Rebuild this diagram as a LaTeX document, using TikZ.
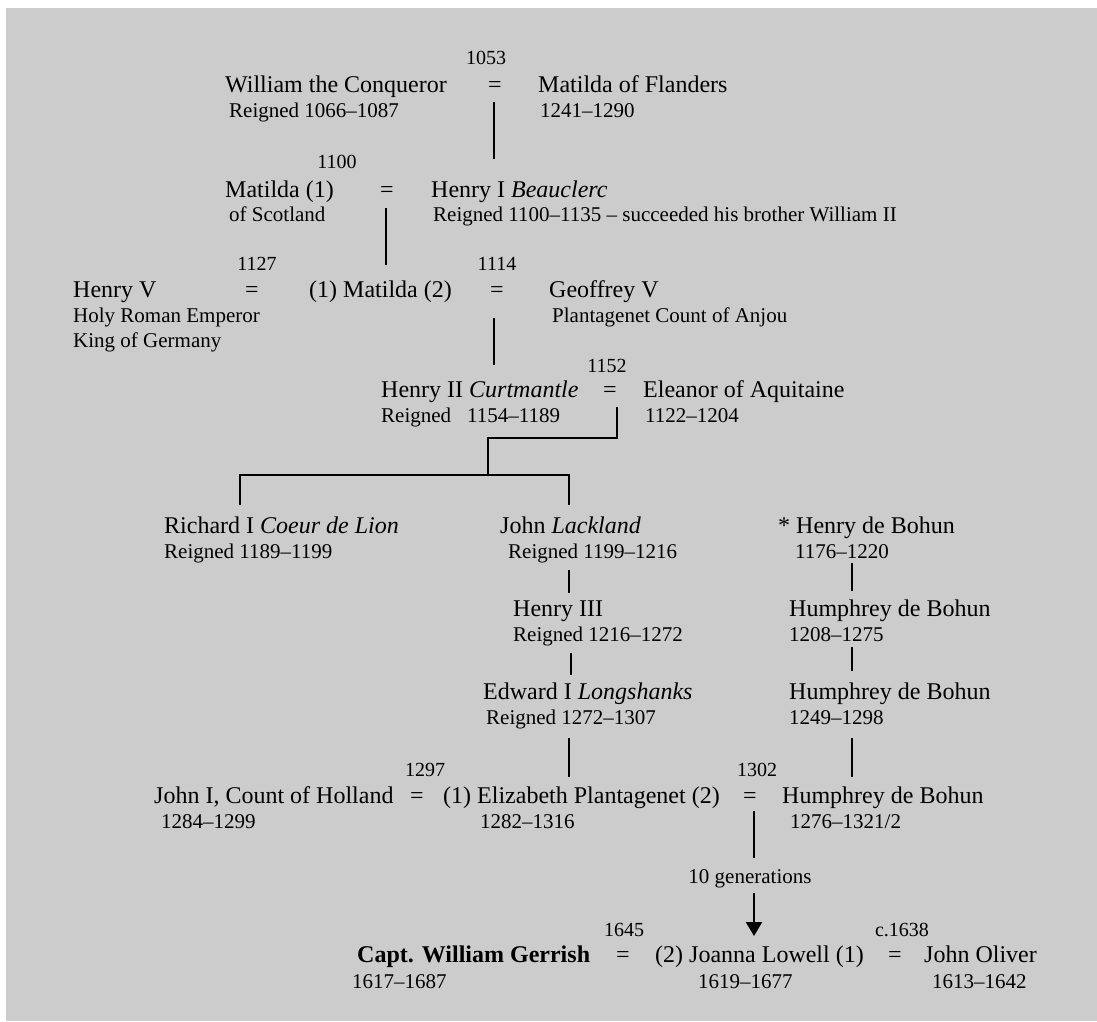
\documentclass[tikz,border=0pt]{standalone}
\usepackage{fontspec}
\setmainfont{Liberation Serif}
\usetikzlibrary{arrows.meta}
\definecolor{bg}{HTML}{CCCCCC}
\begin{document}
\begin{tikzpicture}[x=1pt,y=-1pt,
  mainname/.style={font=\fontsize{24}{28}\selectfont, inner sep=0pt, anchor=base west},
  subtext/.style={font=\fontsize{21}{25}\selectfont, inner sep=0pt, anchor=base west},
  datelbl/.style={font=\fontsize{20}{24}\selectfont, inner sep=0pt, anchor=base},
  eqsign/.style={font=\fontsize{24}{28}\selectfont, inner sep=0pt, anchor=base},
  thickln/.style={line width=2.2pt},
  thinln/.style={line width=1.2pt}]
\useasboundingbox (0,0) rectangle (1097,1021);
\fill[bg] (6,8) rectangle (1097,1021);

% Row 1
\node[datelbl] (d1053) at (486,64) {1053};
\node[mainname] (wc) at (225,92) {William the Conqueror};
\node[eqsign] (eq1) at (495,92) {=};
\node[mainname] (mf) at (538,92) {Matilda of Flanders};
\node[subtext] (wcs) at (229,117) {Reigned 1066–1087};
\node[subtext] (mfs) at (540,117) {1241–1290};
\coordinate (l1a) at (494,102);
\coordinate (l1b) at (494,159);
\draw[thickln] (l1a) -- (l1b);

% Row 2
\node[datelbl] (d1100) at (337,168) {1100};
\node[mainname] (m1) at (225,197) {Matilda (1)};
\node[eqsign] (eq2) at (387,197) {=};
\node[mainname] (h1) at (431,197) {Henry I \textit{Beauclerc}};
\node[subtext] (m1s) at (229,221) {of Scotland};
\node[subtext] (h1s) at (433,221) {Reigned 1100–1135 – succeeded his brother William II};
\coordinate (l2a) at (386,208);
\coordinate (l2b) at (386,265);
\draw[thickln] (l2a) -- (l2b);

% Row 3
\node[datelbl] (d1127) at (257,270) {1127};
\node[mainname] (hv) at (73,297) {Henry V};
\node[eqsign] (eq3) at (252,297) {=};
\node[mainname] (m2) at (309,297) {(1) Matilda (2)};
\node[datelbl] (d1114) at (497,270) {1114};
\node[eqsign] (eq4) at (497,297) {=};
\node[mainname] (gv) at (549,297) {Geoffrey V};
\node[subtext] (hvs1) at (73,322) {Holy Roman Emperor};
\node[subtext] (hvs2) at (73,347) {King of Germany};
\node[subtext] (gvs) at (552,322) {Plantagenet Count of Anjou};
\coordinate (l3a) at (494,318);
\coordinate (l3b) at (494,365);
\draw[thickln] (l3a) -- (l3b);

% Row 4
\node[datelbl] (d1152) at (607,372) {1152};
\node[mainname] (h2) at (381,397) {Henry II \textit{Curtmantle}};
\node[eqsign] (eq5) at (610,397) {=};
\node[mainname] (ea) at (643,397) {Eleanor of Aquitaine};
\node[subtext] (h2s) at (381,422) {Reigned\hspace{16pt}1154–1189};
\node[subtext] (eas) at (645,422) {1122–1204};
\coordinate (l4a) at (617,407);
\coordinate (l4b) at (488,438);
\coordinate (l4c) at (488,475);
\coordinate (brL) at (240,475);
\coordinate (brR) at (569,475);
\coordinate (brLd) at (240,505);
\coordinate (brRd) at (569,505);
\draw[thickln] (l4a) |- (l4b) -- (l4c);
\draw[thickln] (brLd) -- (brL) -- (brR) -- (brRd);

% Row 5
\node[mainname] (r1) at (164,533) {Richard I \textit{Coeur de Lion}};
\node[subtext] (r1s) at (164,558) {Reigned 1189–1199};
\node[mainname] (jl) at (500,533) {John \textit{Lackland}};
\node[subtext] (jls) at (508,558) {Reigned 1199–1216};
\coordinate (l5a) at (569,570);
\coordinate (l5b) at (569,593);
\draw[thinln] (l5a) -- (l5b);
\node[mainname] (h3) at (513,616) {Henry III};
\node[subtext] (h3s) at (513,641) {Reigned 1216–1272};
\coordinate (l6a) at (571,653);
\coordinate (l6b) at (571,675);
\draw[thinln] (l6a) -- (l6b);
\node[mainname] (e1) at (483,699) {Edward I \textit{Longshanks}};
\node[subtext] (e1s) at (486,724) {Reigned 1272–1307};
\coordinate (l7a) at (569,738);
\coordinate (l7b) at (569,777);
\draw[thickln] (l7a) -- (l7b);

% Bohun column
\node[mainname] (hb) at (778,533) {* Henry de Bohun};
\node[subtext] (hbs) at (795,558) {1176–1220};
\coordinate (b1a) at (852,563);
\coordinate (b1b) at (852,591);
\draw[thickln] (b1a) -- (b1b);
\node[mainname] (hb2) at (789,616) {Humphrey de Bohun};
\node[subtext] (hb2s) at (789,641) {1208–1275};
\coordinate (b2a) at (852,647);
\coordinate (b2b) at (852,671);
\draw[thickln] (b2a) -- (b2b);
\node[mainname] (hb3) at (789,699) {Humphrey de Bohun};
\node[subtext] (hb3s) at (789,724) {1249–1298};
\coordinate (b3a) at (852,738);
\coordinate (b3b) at (852,777);
\draw[thickln] (b3a) -- (b3b);

% Row 6
\node[datelbl] (d1297) at (425,776) {1297};
\node[mainname] (jh) at (154,803) {John I, Count of Holland};
\node[eqsign] (eq6) at (417,803) {=};
\node[mainname] (ep) at (443,803) {(1) Elizabeth Plantagenet (2)};
\node[subtext] (jhs) at (161,828) {1284–1299};
\node[subtext] (eps) at (480,828) {1282–1316};
\node[datelbl] (d1302) at (757,776) {1302};
\node[eqsign] (eq7) at (750,803) {=};
\node[mainname] (hb4) at (782,803) {Humphrey de Bohun};
\node[subtext] (hb4s) at (790,828) {1276–1321/2};
\coordinate (g1a) at (754,811);
\coordinate (g1b) at (754,858);
\draw[thickln] (g1a) -- (g1b);
\node[subtext, anchor=base] (gen) at (750,883) {10 generations};
\coordinate (g2a) at (754,893);
\coordinate (g2b) at (754,936);
\draw[thickln, -{Triangle[width=16pt,length=14pt]}] (g2a) -- (g2b);

% Row 7
\node[datelbl] (d1645) at (624,936) {1645};
\node[datelbl] (d1638) at (902,936) {c.1638};
\node[mainname] (wg) at (357,962) {\textbf{Capt. William Gerrish}};
\node[eqsign] (eq8) at (623,962) {=};
\node[mainname] (jo) at (655,962) {(2) Joanna Lowell (1)};
\node[eqsign] (eq9) at (895,962) {=};
\node[mainname] (jol) at (924,962) {John Oliver};
\node[subtext] (wgs) at (352,988) {1617–1687};
\node[subtext] (jos) at (698,988) {1619–1677};
\node[subtext] (jols) at (932,988) {1613–1642};
\end{tikzpicture}
\end{document}
